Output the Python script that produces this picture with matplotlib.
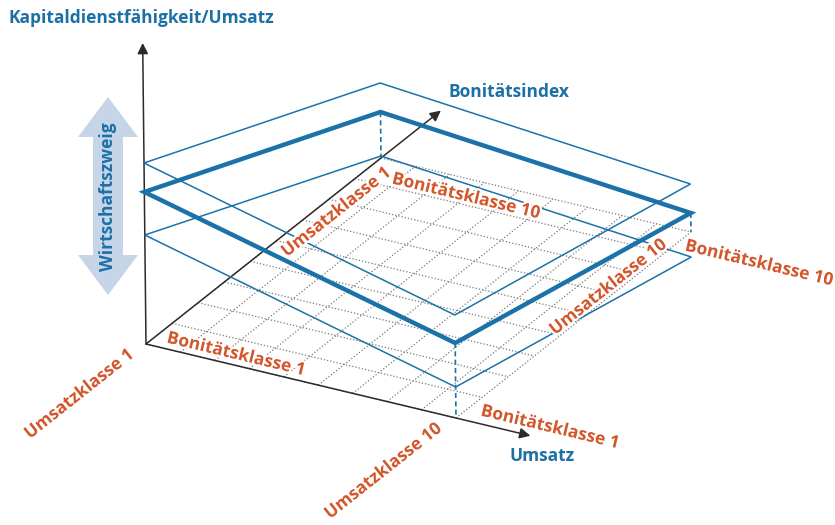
import numpy as np
import matplotlib
matplotlib.use("Agg")
from matplotlib import pyplot as plt
from matplotlib.patches import Polygon
import matplotlib.patheffects as pe

plt.rcParams['font.family'] = ['Open Sans', 'DejaVu Sans']
plt.rcParams['font.weight'] = 'bold'

BLUE = '#1d70a6'
LINE_BLUE = '#1b72a8'
ORANGE = '#d4562b'
ARROW_BG = '#c6d5e7'

# floor corners (umsatz, bonitaet) in unit coords: left, front, right, back
corner_u = [0, 1, 1, 0]
corner_b = [0, 0, 1, 1]
# plane heights above the floor at those corners
h_top = [181, 103, 48, 75]
h_mid = [152, 75, 19, 46]
h_low = [109, 31, -25, 2]
n_classes = 10

title = "Kapitaldienstfähigkeit/Umsatz"
x_name = "Umsatz"
y_name = "Bonitätsindex"
band_name = "Wirtschaftszweig"

# simple oblique projection onto the picture
origin = np.array([146., 344.])
u_vec = np.array([310., 74.])
b_vec = np.array([235., -186.])
z_vec = np.array([-0.011, -1.])


def proj(u, b, h=0.0):
    return origin + u * u_vec + b * b_vec + h * z_vec


fig = plt.figure(figsize=(8.35, 5.25), dpi=100)
ax = fig.add_axes([0, 0, 1, 1])
ax.set_xlim(0, 835)
ax.set_ylim(525, 0)
ax.axis('off')

# floor grid
ticks = np.linspace(0, 1, n_classes)
for t in ticks:
    p0, p1 = proj(t, 0), proj(t, 1)
    ax.plot([p0[0], p1[0]], [p0[1], p1[1]], ls=(0, (1, 1.6)), color='#7a7a7a', lw=0.9, zorder=1)
    p0, p1 = proj(0, t), proj(1, t)
    ax.plot([p0[0], p1[0]], [p0[1], p1[1]], ls=(0, (1, 1.6)), color='#7a7a7a', lw=0.9, zorder=1)

# axes with arrows
arrow_kw = dict(arrowstyle='-|>', color='#2b2b2b', lw=1.1, mutation_scale=16,
                shrinkA=0, shrinkB=0)
for tip in [proj(0, 0, 301), proj(1.24, 0), proj(0, 1.255)]:
    ax.annotate('', xy=tip, xytext=origin, arrowprops=arrow_kw, zorder=2)

# dashed drop lines from the thick plane
for k in [1, 2, 3]:
    p0 = proj(corner_u[k], corner_b[k], h_mid[k])
    p1 = proj(corner_u[k], corner_b[k], 0)
    ax.plot([p0[0], p1[0]], [p0[1], p1[1]], ls=(0, (3, 2)), color=LINE_BLUE, lw=1.2, zorder=2)

# planes
for heights, lw in [(h_top, 1.1), (h_low, 1.1), (h_mid, 3.2)]:
    pts = np.array([proj(u, b, h) for u, b, h in zip(corner_u, corner_b, heights)])
    ax.add_patch(Polygon(pts, closed=True, fill=False, edgecolor=LINE_BLUE, lw=lw,
                         joinstyle='miter', zorder=3))

# double arrow "Wirtschaftszweig"
cx, top, bot = 108, 97, 295
shaft, head, head_len = 15, 30, 40
arrow_pts = [(cx, top), (cx + head, top + head_len), (cx + shaft, top + head_len),
             (cx + shaft, bot - head_len), (cx + head, bot - head_len), (cx, bot),
             (cx - head, bot - head_len), (cx - shaft, bot - head_len),
             (cx - shaft, top + head_len), (cx - head, top + head_len)]
ax.add_patch(Polygon(arrow_pts, closed=True, facecolor=ARROW_BG, edgecolor='none', zorder=1))
ax.text(cx, 197, band_name, rotation=90, ha='center', va='center', color=BLUE,
        fontsize=12.5, zorder=5)

# axis titles
ax.text(8, 18, title, ha='left', va='center', color=BLUE, fontsize=12.5)
ax.text(509, 92, y_name, ha='center', va='center', color=BLUE, fontsize=12.5)
ax.text(542, 456, x_name, ha='center', va='center', color=BLUE, fontsize=12.5)

# class labels
ang_b = np.degrees(np.arctan2(-b_vec[1], b_vec[0]))
ang_u = np.degrees(np.arctan2(-u_vec[1], u_vec[0]))
halo = [pe.withStroke(linewidth=3, foreground='white')]
labels = [
    ("Umsatzklasse 1", 79, 394, ang_b),
    ("Umsatzklasse 10", 383, 471, ang_b),
    ("Umsatzklasse 1", 336, 212, ang_b),
    ("Umsatzklasse 10", 608, 287, ang_b),
    ("Bonitätsklasse 1", 236, 354, ang_u),
    ("Bonitätsklasse 1", 550, 427, ang_u),
    ("Bonitätsklasse 10", 466, 196, ang_u),
    ("Bonitätsklasse 10", 759, 263, ang_u),
]
for txt, x, y, ang in labels:
    ax.text(x, y, txt, rotation=ang, rotation_mode='anchor', ha='center', va='center',
            color=ORANGE, fontsize=12.5, path_effects=halo, zorder=6)

fig.savefig('out.png', dpi=100)
